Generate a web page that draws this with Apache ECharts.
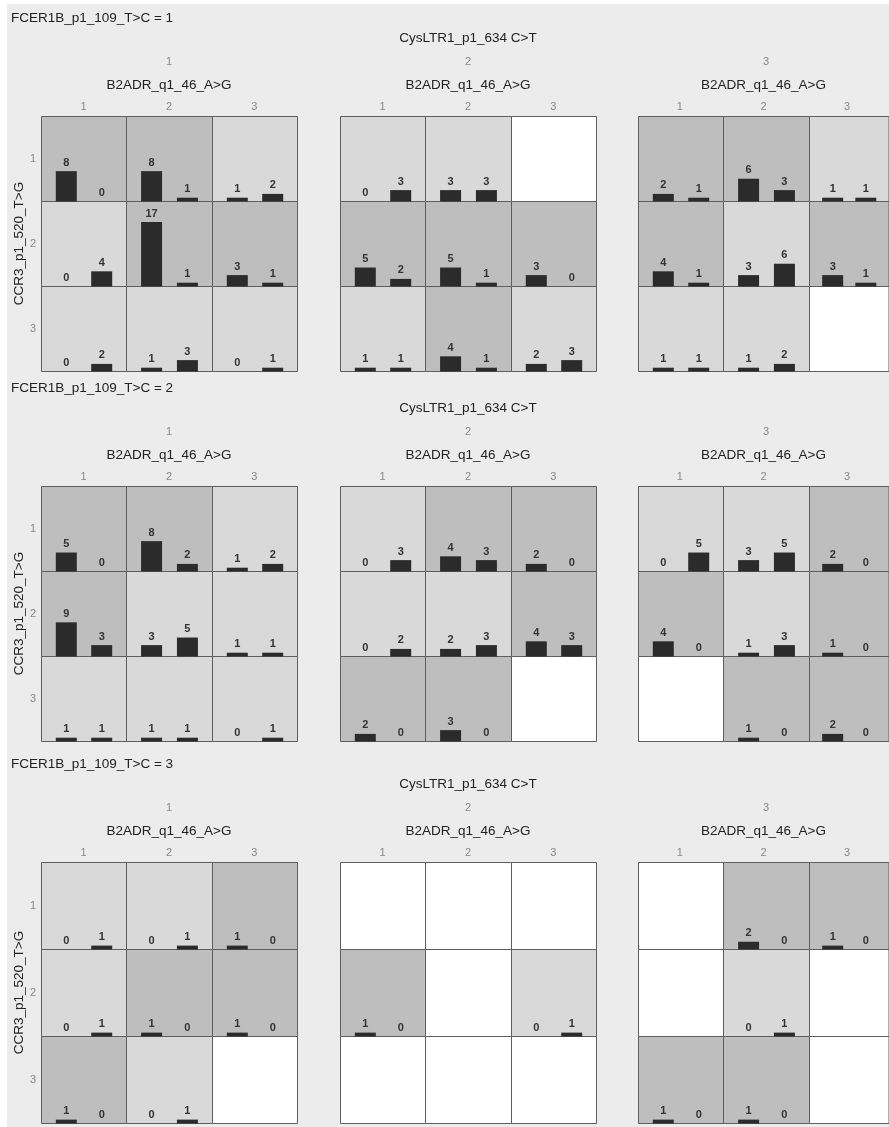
<!DOCTYPE html>
<html>
<head>
<meta charset="utf-8">
<script src="https://cdn.jsdelivr.net/npm/echarts@6/dist/echarts.min.js"></script>
<style>
body { margin: 0; background: #fff; }
#bg { position: absolute; left: 7px; top: 4px; right: 0; bottom: 0; background: #ececec; }
#main { position: absolute; left: 0; top: 0; width: 889px; height: 1127px; }
</style>
</head>
<body>
<div id="bg"></div>
<div id="main"></div>
<script>
// 变量名和水平
var fcerName = 'FCER1B_p1_109_T>C';
var cysName = 'CysLTR1_p1_634 C>T';
var b2Name = 'B2ADR_q1_46_A>G';
var ccrName = 'CCR3_p1_520_T>G';
var levels = ['1', '2', '3'];

// 每个FCER1B水平: [CysLTR1面板][CCR3行][B2ADR列] = [左柱, 右柱], null为空格
var fcer1 = [
	[[[8, 0], [8, 1], [1, 2]], [[0, 4], [17, 1], [3, 1]], [[0, 2], [1, 3], [0, 1]]],
	[[[0, 3], [3, 3], null], [[5, 2], [5, 1], [3, 0]], [[1, 1], [4, 1], [2, 3]]],
	[[[2, 1], [6, 3], [1, 1]], [[4, 1], [3, 6], [3, 1]], [[1, 1], [1, 2], null]]
];
var fcer2 = [
	[[[5, 0], [8, 2], [1, 2]], [[9, 3], [3, 5], [1, 1]], [[1, 1], [1, 1], [0, 1]]],
	[[[0, 3], [4, 3], [2, 0]], [[0, 2], [2, 3], [4, 3]], [[2, 0], [3, 0], null]],
	[[[0, 5], [3, 5], [2, 0]], [[4, 0], [1, 3], [1, 0]], [null, [1, 0], [2, 0]]]
];
var fcer3 = [
	[[[0, 1], [0, 1], [1, 0]], [[0, 1], [1, 0], [1, 0]], [[1, 0], [0, 1], null]],
	[[null, null, null], [[1, 0], null, [0, 1]], [null, null, null]],
	[[null, [2, 0], [1, 0]], [null, [0, 1], null], [[1, 0], [1, 0], null]]
];
var counts = [fcer1, fcer2, fcer3];

(function() {
	var font = '"Liberation Sans", Arial, sans-serif';
	var panelX = [41, 340, 638], panelW = 256;
	var blockTop = [116, 486, 862], blockH = [255, 255, 261];
	var yMax = 22.4;

	var grids = [], xAxes = [], yAxes = [], series = [], graphics = [];

	function txt(s, x, y, align, size, color) {
		return {
			type: 'text', x: x, y: y, silent: true,
			style: { text: s, fill: color, font: size + 'px ' + font, align: align, verticalAlign: 'middle', textAlign: align, textVerticalAlign: 'middle' }
		};
	}
	function edge(start, size, i) { return Math.round(start + size * i / 3); }

	for (var b = 0; b < 3; b++) {
		var top = blockTop[b];
		graphics.push(txt(fcerName + ' = ' + levels[b], 11, top - 98, 'left', 13.5, '#222'));
		graphics.push(txt(cysName, panelX[1] + panelW / 2, top - 78, 'center', 13.5, '#222'));
		for (var p = 0; p < 3; p++) {
			graphics.push(txt(levels[p], panelX[p] + panelW / 2, top - 54, 'center', 11, '#888'));
			//面板外框(只用来放刻度和轴名)
			grids.push({ left: panelX[p], top: top, width: panelW, height: blockH[b], show: false });
			var gi = grids.length - 1;
			xAxes.push({
				gridIndex: gi, type: 'category', data: levels, position: 'top',
				name: b2Name, nameLocation: 'middle', nameGap: 24,
				nameTextStyle: { color: '#222', fontSize: 13.5, fontFamily: font },
				axisLine: { show: false }, axisTick: { show: false },
				axisLabel: { color: '#888', fontSize: 11, margin: 4, fontFamily: font }
			});
			yAxes.push({
				gridIndex: gi, type: 'category', data: levels, inverse: true,
				name: p === 0 ? ccrName : '', nameLocation: 'middle', nameGap: 10,
				nameTextStyle: { color: '#222', fontSize: 13.5, fontFamily: font },
				axisLine: { show: false }, axisTick: { show: false },
				axisLabel: { show: p === 0, color: '#888', fontSize: 11, margin: 5, fontFamily: font }
			});
			for (var r = 0; r < 3; r++) {
				for (var c = 0; c < 3; c++) {
					var v = counts[b][p][r][c];
					var x0 = edge(panelX[p], panelW, c), x1 = edge(panelX[p], panelW, c + 1);
					var y0 = edge(top, blockH[b], r), y1 = edge(top, blockH[b], r + 1);
					var shade = !v ? '#ffffff' : (v[0] > v[1] ? '#bebebe' : '#d9d9d9');
					grids.push({
						left: x0 + 0.5, top: y0 + 0.5, width: x1 - x0, height: y1 - y0,
						show: true, backgroundColor: shade, borderColor: '#5e5e5e', borderWidth: 1
					});
					gi = grids.length - 1;
					xAxes.push({ gridIndex: gi, type: 'value', min: -0.7, max: 1.7, show: false });
					yAxes.push({ gridIndex: gi, type: 'value', min: 0, max: yMax, show: false });
					if (v) {
						series.push({
							type: 'bar', xAxisIndex: gi, yAxisIndex: gi, barWidth: 21, silent: true,
							data: [[0, v[0]], [1, v[1]]],
							itemStyle: { color: '#2b2b2b' },
							label: { show: true, position: 'top', distance: 3, color: '#333', fontWeight: 'bold', fontSize: 11, fontFamily: font }
						});
					}
				}
			}
		}
	}

	var myChart = echarts.init(document.getElementById('main'));
	myChart.setOption({
		animation: false,
		grid: grids,
		xAxis: xAxes,
		yAxis: yAxes,
		series: series,
		graphic: graphics
	});
})();
</script>
</body>
</html>
